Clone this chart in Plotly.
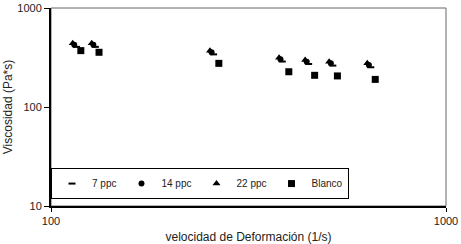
import plotly.graph_objects as go

# Shear rate (1/s) and viscosity (Pa*s)
x_7ppc = [116, 129.5, 258, 385, 449, 517, 645]
y_7ppc = [405, 405, 340, 288, 272, 262, 252]

x_14ppc = [114.5, 128, 255, 381, 444, 511, 638]
y_14ppc = [425, 425, 357, 303, 287, 276, 266]

x_22ppc = [113.5, 126.8, 252.6, 378, 440, 506, 632]
y_22ppc = [440, 440, 371, 315, 298, 287, 276]

x_blanco = [119, 132.3, 266, 400, 465, 531, 662]
y_blanco = [371, 357, 276, 227, 209, 206, 190]

series_names = ["7 ppc", "14 ppc", "22 ppc", "Blanco"]
x_ticks = [100, 1000]
y_ticks = [10, 100, 1000]

fig = go.Figure()
fig.add_trace(go.Scatter(x=x_7ppc, y=y_7ppc, mode="markers", name=series_names[0],
                         marker=dict(symbol="line-ew", size=5, color="black",
                                     line=dict(color="black", width=2))))
fig.add_trace(go.Scatter(x=x_14ppc, y=y_14ppc, mode="markers", name=series_names[1],
                         marker=dict(symbol="circle", size=6, color="black")))
fig.add_trace(go.Scatter(x=x_22ppc, y=y_22ppc, mode="markers", name=series_names[2],
                         marker=dict(symbol="triangle-up", size=7, color="black")))
fig.add_trace(go.Scatter(x=x_blanco, y=y_blanco, mode="markers", name=series_names[3],
                         marker=dict(symbol="square", size=7, color="black")))

font_family = "Liberation Sans, Arial, sans-serif"

fig.update_layout(
    width=461, height=244,
    margin=dict(l=51, r=15, t=8, b=38, autoexpand=False),
    paper_bgcolor="white", plot_bgcolor="white",
    font=dict(family=font_family, size=11, color="#222"),
    showlegend=True,
    legend=dict(orientation="h", x=0.0, y=0.035, xanchor="left", yanchor="bottom",
                bordercolor="black", borderwidth=1, bgcolor="white",
                font=dict(size=10, color="#222"), itemwidth=30,
                tracegroupgap=0),
    shapes=[dict(type="rect", xref="paper", yref="paper", x0=0, y0=0, x1=1, y1=1,
                 line=dict(color="#666", width=1), layer="below")],
)

fig.update_xaxes(type="log", range=[2, 3], tickvals=x_ticks, ticktext=["100", "1000"],
                 showgrid=False, zeroline=False, showline=True, linecolor="black", linewidth=2,
                 ticks="outside", ticklen=4, tickcolor="black", tickwidth=1,
                 tickfont=dict(size=11, color="#222"),
                 title=dict(text="velocidad de Deformación (1/s)", font=dict(size=12, color="#222"),
                            standoff=9),
                 automargin=False)
fig.update_yaxes(type="log", range=[1, 3], tickvals=y_ticks, ticktext=["10", "100", "1000"],
                 showgrid=False, zeroline=False, showline=True, linecolor="black", linewidth=2,
                 ticks="outside", ticklen=5, tickcolor="black", tickwidth=1,
                 tickfont=dict(size=11, color="#222"),
                 title=dict(text="Viscosidad (Pa*s)", font=dict(size=12, color="#222"),
                            standoff=2),
                 automargin=False)

fig.write_html("out.html", config={"displayModeBar": False},
               post_script="document.body.style.margin='0';")
